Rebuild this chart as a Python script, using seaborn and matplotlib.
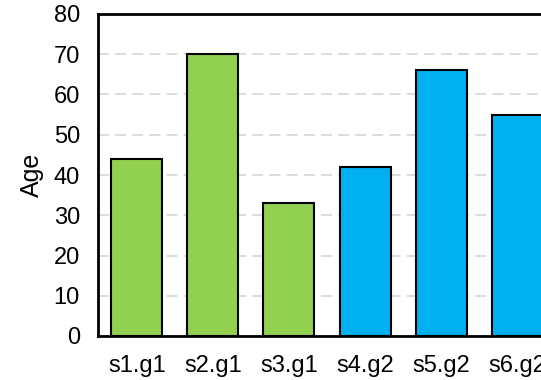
import matplotlib
matplotlib.use("Agg")
import matplotlib.pyplot as plt
import seaborn as sns
import pandas as pd

samples = ["s1.g1", "s2.g1", "s3.g1", "s4.g2", "s5.g2", "s6.g2"]
groups = ["g1", "g1", "g1", "g2", "g2", "g2"]
ages = [44, 70, 33, 42, 66, 55]
group_colors = {"g1": "#92D050", "g2": "#00B0F0"}

df = pd.DataFrame({"sample": samples, "group": groups, "age": ages})

sns.set_theme(style="white")
plt.rcParams["font.family"] = ["Liberation Sans", "DejaVu Sans"]

fig = plt.figure(figsize=(5.41, 3.80), dpi=100)
ax = fig.add_axes([98 / 541, 44 / 380, 458 / 541, 322 / 380])

sns.barplot(data=df, x="sample", y="age", hue="group", palette=group_colors,
            saturation=1, dodge=False, width=0.67, edgecolor="black",
            linewidth=1.5, legend=False, ax=ax, zorder=3)

ax.set_ylim(0, 80)
ax.set_xlim(-0.51, 5.51)
ax.set_yticks(range(0, 81, 10))
ax.yaxis.grid(True, color="#D9D9D9", linestyle=(0, (6, 3.5)), linewidth=1.3, zorder=0)
ax.xaxis.grid(False)
ax.set_axisbelow(True)

for s in ax.spines.values():
    s.set_color("black")
    s.set_linewidth(2)

ax.tick_params(axis="both", length=0, labelsize=17, colors="black")
ax.tick_params(axis="y", pad=13)
ax.tick_params(axis="x", pad=14)
ax.set_xlabel("")
ax.set_ylabel("Age", fontsize=18, color="black", labelpad=7)

fig.savefig("out.png", dpi=100)
